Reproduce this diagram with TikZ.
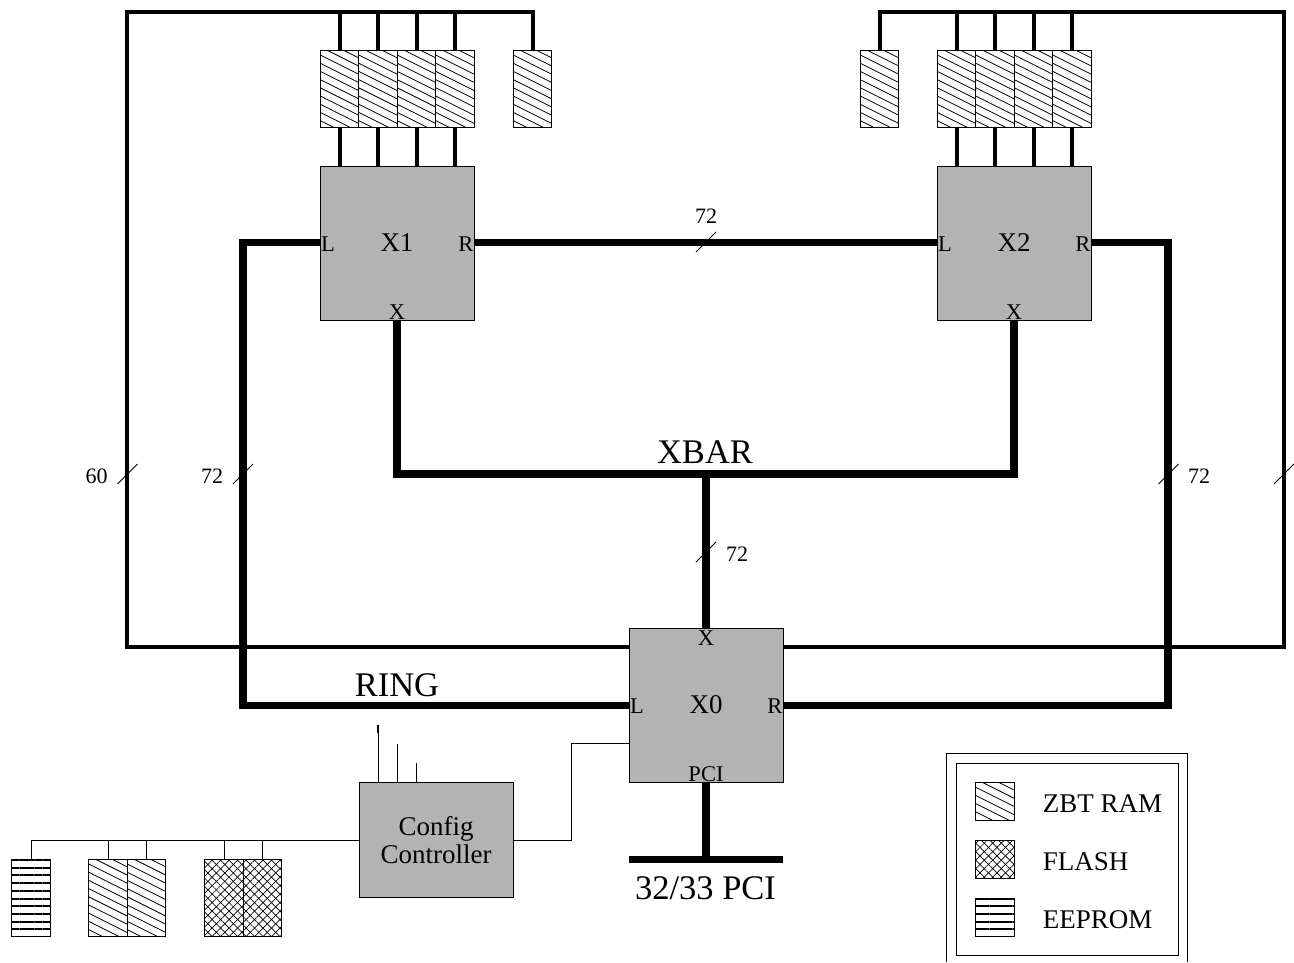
\documentclass[tikz,border=0pt]{standalone}
\usepackage{fontspec}
\setmainfont{Liberation Serif}
\usetikzlibrary{arrows.meta, positioning, calc, patterns.meta}
\definecolor{fpgagray}{HTML}{B3B3B3}
\newcommand{\fs}[1]{\fontsize{#1}{#1}\selectfont}
\begin{document}
\begin{tikzpicture}[
  x=1pt, y=-1pt,
  node distance=0pt,
  fpga/.style={rectangle, draw, fill=fpgagray, line width=0.8pt, outer sep=0pt, minimum width=154pt, minimum height=154pt, inner sep=0pt, font=\fs{27}},
  config/.style={fpga, minimum height=115pt, align=center},
  zbtfill/.style={path picture={
    \foreach \k in {-3,...,9}
      \draw[line width=0.8pt] ($(path picture bounding box.north west)+(0,5+\k*8.2)$) -- ++(40,20);
  }},
  flashfill/.style={pattern={Lines[angle=45,distance=6pt,line width=0.7pt]}, postaction={pattern={Lines[angle=-45,distance=6pt,line width=0.7pt]}}},
  eepromfill/.style={pattern={Lines[angle=0,distance=7.7pt,yshift=1.9pt,line width=2pt]}},
  chip/.style={rectangle, draw, line width=1pt, outer sep=0pt, minimum width=38.5pt, minimum height=77pt, inner sep=0pt},
  swatch/.style={chip, minimum height=38.5pt},
  port/.style={inner sep=0pt, font=\fs{22.5}},
  busname/.style={inner sep=0pt, font=\fs{34.5}},
  width/.style={inner sep=0pt, font=\fs{22}},
  legendtext/.style={inner sep=0pt, anchor=west, yshift=-2pt, font=\fs{27}},
  bus/.style={line width=7.2pt},
  mem/.style={line width=4pt},
  wire/.style={line width=1pt},
  tick/.style={line width=0.8pt},
]
\useasboundingbox (0,0) rectangle (1294,962);

% fpgas
\node[fpga] (x1) at (397,243) {X1};
\node[fpga] (x2) at (1014,243) {X2};
\node[fpga] (x0) at (706,705) {X0};
\node[config] (cfg) at (436,840) {Config\\[1pt]Controller};

% ram on x1
\node[chip, zbtfill] (ra) at (339.5,88.5) {};
\node[chip, zbtfill, right=of ra] (rb) {};
\node[chip, zbtfill, right=of rb] (rc) {};
\node[chip, zbtfill, right=of rc] (rd) {};
\node[chip, zbtfill] (re) at (532.5,88.5) {};
% ram on x2
\node[chip, zbtfill] (sa) at (879.5,88.5) {};
\node[chip, zbtfill] (sb) at (956.5,88.5) {};
\node[chip, zbtfill, right=of sb] (sc) {};
\node[chip, zbtfill, right=of sc] (sd) {};
\node[chip, zbtfill, right=of sd] (se) {};
% boot memories
\node[chip, eepromfill] (ee) at (31,897.5) {};
\node[chip, zbtfill] (ca) at (108,897.5) {};
\node[chip, zbtfill, right=of ca] (cb) {};
\node[chip, flashfill] (fa) at (224,897.5) {};
\node[chip, flashfill, right=of fa] (fb) {};

% free ends
\coordinate (lbus) at (127,11.5);
\coordinate (rbus) at (1284,11.5);
\coordinate (pcia) at (629,859.7);
\coordinate (pcib) at (783,859.7);
\coordinate (pcic) at (706,859.7);
\coordinate (xmid) at (706,474);
\coordinate (cfga) at (378,725);
\coordinate (cfgb) at (397,744);
\coordinate (cfgc) at (416,763);

% memory busses
\draw[mem, line join=miter] (x0.west |- 0,647) -| (lbus) -| (re.north);
\draw[mem, line join=miter] (x0.east |- 0,647) -| (rbus) -| (sa.north);
\foreach \m in {ra,rb,rc,rd} {
  \draw[mem] (\m.north) -- (\m.north |- lbus);
  \draw[mem] (\m.south) -- (\m.south |- x1.north);
}
\foreach \m in {sb,sc,sd,se} {
  \draw[mem] (\m.north) -- (\m.north |- rbus);
  \draw[mem] (\m.south) -- (\m.south |- x2.north);
}

% ring and xbar
\draw[bus] (x1.west |- 0,242.4) -| (243,705.5) -- (x0.west |- 0,705.5);
\draw[bus] (x2.east |- 0,242.4) -| (1168,705.5) -- (x0.east |- 0,705.5);
\draw[bus] (x1.east |- 0,242.4) -- (x2.west |- 0,242.4);
\draw[bus] (x1.south) |- (xmid) -| (x2.south);
\draw[bus] (xmid) -- (x0.north);
\draw[bus] (x0.south) -- (pcic);
\draw[bus] (pcia) -- (pcib);

% config wiring
\draw[wire] (cfg.east) -| (571,743) -- (x0.west |- 0,743);
\draw[wire] (cfg.west) -- (31,840) -- (ee.north);
\foreach \m in {ca,cb,fa,fb} \draw[wire] (\m.north) -- (\m.north |- cfg.west);
\foreach \m in {cfga,cfgb,cfgc} \draw[wire] (\m) -- (\m |- cfg.north);
\draw[line width=1.8pt] (cfga) -- ++(0,8);

% port names
\foreach \f in {x1,x2,x0} {
  \node[port, anchor=west] at ($(\f.west)+(1,1)$) (\f l) {L};
  \node[port, anchor=east] at ($(\f.east)+(-0.5,1)$) (\f r) {R};
}
\node[port, anchor=south] (x1x) at (x1.south) {X};
\node[port, anchor=south] (x2x) at (x2.south) {X};
\node[port, anchor=north] (x0x) at ($(x0.north)+(0,3)$) {X};
\node[port, anchor=south] (x0p) at (x0.south) {PCI};

\node[busname] (ring) at (397,685) {RING};
\node[busname] (xbar) at (705,452) {XBAR};
\node[busname] (pci) at (705.5,888) {32/33 PCI};

% widths
\foreach \t/\px/\py in {a/706/242, b/706/552, c/127.5/474, d/243/474, e/1168.5/474, f/1284/474}
  \draw[tick] ($(\px,\py)+(-10,10)$) -- ($(\px,\py)+(10,-10)$);
\node[width] (wa) at (706,216) {72};
\node[width] (wb) at (737,554) {72};
\node[width] (wc) at (96.5,476) {60};
\node[width] (wd) at (212,476) {72};
\node[width] (we) at (1199,476) {72};

% legend
\draw[wire] (946,962) |- (1187,753) -- (1187,962);
\draw[wire] (956,763) rectangle (1178,955);
\node[swatch, zbtfill] (kz) at (995,801.5) {};
\node[swatch, flashfill] (kf) at (995,859.5) {};
\node[swatch, eepromfill] (ke) at (995,917.5) {};
\node[legendtext, right=28.5pt of kz] (tz) {ZBT RAM};
\node[legendtext, right=28.5pt of kf] (tf) {FLASH};
\node[legendtext, right=28.5pt of ke] (te) {EEPROM};
\end{tikzpicture}
\end{document}
